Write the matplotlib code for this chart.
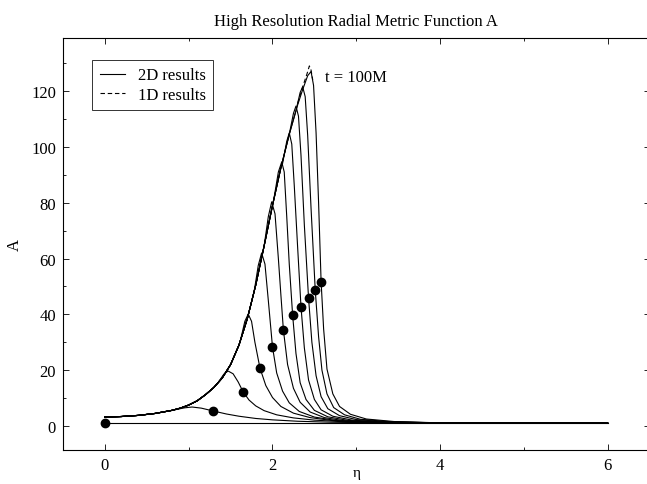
import numpy as np
import matplotlib
matplotlib.use("Agg")
import matplotlib.pyplot as plt
from matplotlib.ticker import MultipleLocator

# shared rising envelope (2D runs)
env_eta = [0.0, 0.2, 0.4, 0.6, 0.8, 0.9, 1.0, 1.1, 1.2, 1.3, 1.4, 1.5,
           1.6, 1.7, 1.8, 1.9, 2.0, 2.1, 2.2, 2.3, 2.4]
env_A = [3.2, 3.4, 3.8, 4.5, 5.6, 6.4, 7.5, 9.0, 11.2, 13.8, 17.2, 22.0,
         29.0, 38.5, 50.5, 64.5, 79.0, 92.5, 104.5, 115.0, 123.5]

# t = 0 slice (flat)
t0_eta = [0.0, 2.0, 4.0, 6.0]
t0_A = [1.0, 1.0, 1.0, 1.0]

# each later slice leaves the envelope and falls off
c1_eta = [0.8, 0.95, 1.04, 1.15, 1.29, 1.45, 1.6, 1.8, 2.0, 2.3, 2.7, 3.2, 4.0, 6.0]
c1_A = [5.6, 6.5, 6.8, 6.4, 5.4, 4.3, 3.5, 2.7, 2.2, 1.7, 1.35, 1.15, 1.05, 1.0]

c2_eta = [1.35, 1.42, 1.47, 1.53, 1.59, 1.65, 1.72, 1.8, 1.9, 2.05, 2.25, 2.5, 2.8, 3.2, 4.0, 6.0]
c2_A = [15.5, 18.6, 19.7, 18.7, 15.8, 12.2, 9.3, 7.2, 5.5, 4.0, 2.9, 2.1, 1.6, 1.25, 1.05, 1.0]

c3_eta = [1.62, 1.67, 1.71, 1.75, 1.79, 1.85, 1.92, 2.0, 2.1, 2.25, 2.45, 2.7, 3.0, 3.4, 4.0, 6.0]
c3_A = [31.0, 37.5, 40.1, 37.5, 30.0, 20.8, 14.5, 10.2, 7.0, 4.6, 3.0, 2.0, 1.5, 1.2, 1.05, 1.0]

c4_eta = [1.78, 1.83, 1.87, 1.91, 1.95, 2.0, 2.05, 2.12, 2.2, 2.32, 2.5, 2.75, 3.1, 4.0, 6.0]
c4_A = [48.0, 57.5, 62.0, 58.0, 45.0, 28.3, 19.0, 12.5, 8.3, 5.2, 3.2, 2.0, 1.35, 1.05, 1.0]

c5_eta = [1.9, 1.95, 1.99, 2.03, 2.07, 2.1, 2.13, 2.18, 2.25, 2.33, 2.45, 2.62, 2.85, 3.2, 4.0, 6.0]
c5_A = [64.5, 75.0, 80.3, 76.0, 60.0, 47.0, 34.4, 22.0, 13.5, 8.5, 5.0, 3.0, 1.9, 1.35, 1.06, 1.0]

c6_eta = [2.02, 2.07, 2.11, 2.14, 2.17, 2.2, 2.24, 2.28, 2.33, 2.4, 2.5, 2.66, 2.9, 3.25, 4.0, 6.0]
c6_A = [82.0, 91.0, 94.6, 91.0, 75.0, 58.0, 39.8, 26.0, 15.5, 9.5, 5.6, 3.3, 2.0, 1.4, 1.07, 1.0]

c7_eta = [2.12, 2.17, 2.2, 2.23, 2.26, 2.3, 2.34, 2.38, 2.43, 2.5, 2.58, 2.72, 2.95, 3.3, 4.0, 6.0]
c7_A = [94.0, 102.0, 105.0, 101.0, 86.0, 64.0, 42.7, 28.0, 16.5, 9.5, 5.8, 3.5, 2.1, 1.45, 1.08, 1.0]

c8_eta = [2.2, 2.25, 2.28, 2.31, 2.34, 2.38, 2.43, 2.47, 2.52, 2.58, 2.66, 2.8, 3.0, 3.35, 4.0, 6.0]
c8_A = [104.5, 112.0, 114.6, 111.0, 97.0, 72.0, 45.9, 30.0, 18.0, 10.5, 6.2, 3.7, 2.3, 1.5, 1.1, 1.0]

c9_eta = [2.28, 2.33, 2.36, 2.39, 2.42, 2.46, 2.51, 2.55, 2.59, 2.65, 2.73, 2.86, 3.05, 3.4, 4.0, 6.0]
c9_A = [113.0, 119.5, 121.5, 118.0, 104.0, 78.0, 48.7, 32.0, 20.0, 11.5, 6.6, 4.0, 2.4, 1.55, 1.1, 1.0]

c10_eta = [2.36, 2.42, 2.46, 2.49, 2.52, 2.55, 2.58, 2.61, 2.65, 2.72, 2.8, 2.93, 3.12, 3.45, 4.0, 6.0]
c10_A = [120.5, 125.5, 127.0, 122.0, 105.0, 80.0, 51.7, 34.8, 20.4, 11.5, 7.0, 4.2, 2.5, 1.6, 1.12, 1.0]

# 1D run, last slice near the peak
oned_eta = [2.3, 2.36, 2.41, 2.44, 2.46, 2.48]
oned_A = [115.5, 121.5, 126.0, 129.0, 127.5, 124.0]

# filled circles
dot_eta = [0.0, 1.29, 1.65, 1.85, 2.0, 2.13, 2.24, 2.34, 2.43, 2.51, 2.58]
dot_A = [1.0, 5.4, 12.2, 20.8, 28.3, 34.4, 39.8, 42.7, 45.9, 48.7, 51.7]

slices = [(c1_eta, c1_A), (c2_eta, c2_A), (c3_eta, c3_A), (c4_eta, c4_A),
          (c5_eta, c5_A), (c6_eta, c6_A), (c7_eta, c7_A), (c8_eta, c8_A),
          (c9_eta, c9_A), (c10_eta, c10_A)]

plt.rcParams['font.family'] = ['Liberation Serif', 'DejaVu Serif']
plt.rcParams['font.size'] = 12

fig = plt.figure(figsize=(6.47, 4.85), dpi=100)
ax = fig.add_axes([63 / 647, 34 / 485, 586.6 / 647, 412 / 485])

lw = 0.8
ax.plot(t0_eta, t0_A, color='k', lw=lw)
env_eta = np.array(env_eta)
env_A = np.array(env_A)
for i, (se, sa) in enumerate(slices):
    keep = env_eta < se[0]
    x = np.concatenate([env_eta[keep], se])
    y = np.concatenate([env_A[keep], sa])
    ax.plot(x, y, color='k', lw=lw, label='2D results' if i == 0 else None)

ax.plot(oned_eta, oned_A, color='k', lw=lw, ls=(0, (4, 2.5)), label='1D results')
ax.plot(dot_eta, dot_A, 'o', color='k', ms=6, zorder=5)

ax.text(2.63, 125, 't = 100M', ha='left', va='center', fontsize=12)

ax.set_xlim(-0.5, 6.5)
ax.set_ylim(-8.6, 139)
ax.set_xticks([0, 2, 4, 6])
ax.set_yticks([0, 20, 40, 60, 80, 100, 120])
ax.xaxis.set_minor_locator(MultipleLocator(1))
ax.yaxis.set_minor_locator(MultipleLocator(10))
ax.tick_params(which='both', direction='in', top=True, right=True, width=0.6)
ax.tick_params(which='major', length=4, pad=5, labelsize=12)
ax.tick_params(which='minor', length=2)
for s in ax.spines.values():
    s.set_linewidth(0.8)

ax.set_title('High Resolution Radial Metric Function A', fontsize=12, pad=9)
ax.set_xlabel('η', labelpad=-5, fontsize=11)
ax.set_ylabel('A', labelpad=6)

leg = ax.legend(loc='upper left', bbox_to_anchor=(29 / 586.6, 1 - 22 / 412),
                fontsize=12, frameon=True, fancybox=False, edgecolor='k',
                handlelength=1.5, handletextpad=0.8, labelspacing=0.2,
                borderpad=0.45, borderaxespad=0)
leg.get_frame().set_linewidth(0.7)

fig.savefig('out.png', dpi=100)
